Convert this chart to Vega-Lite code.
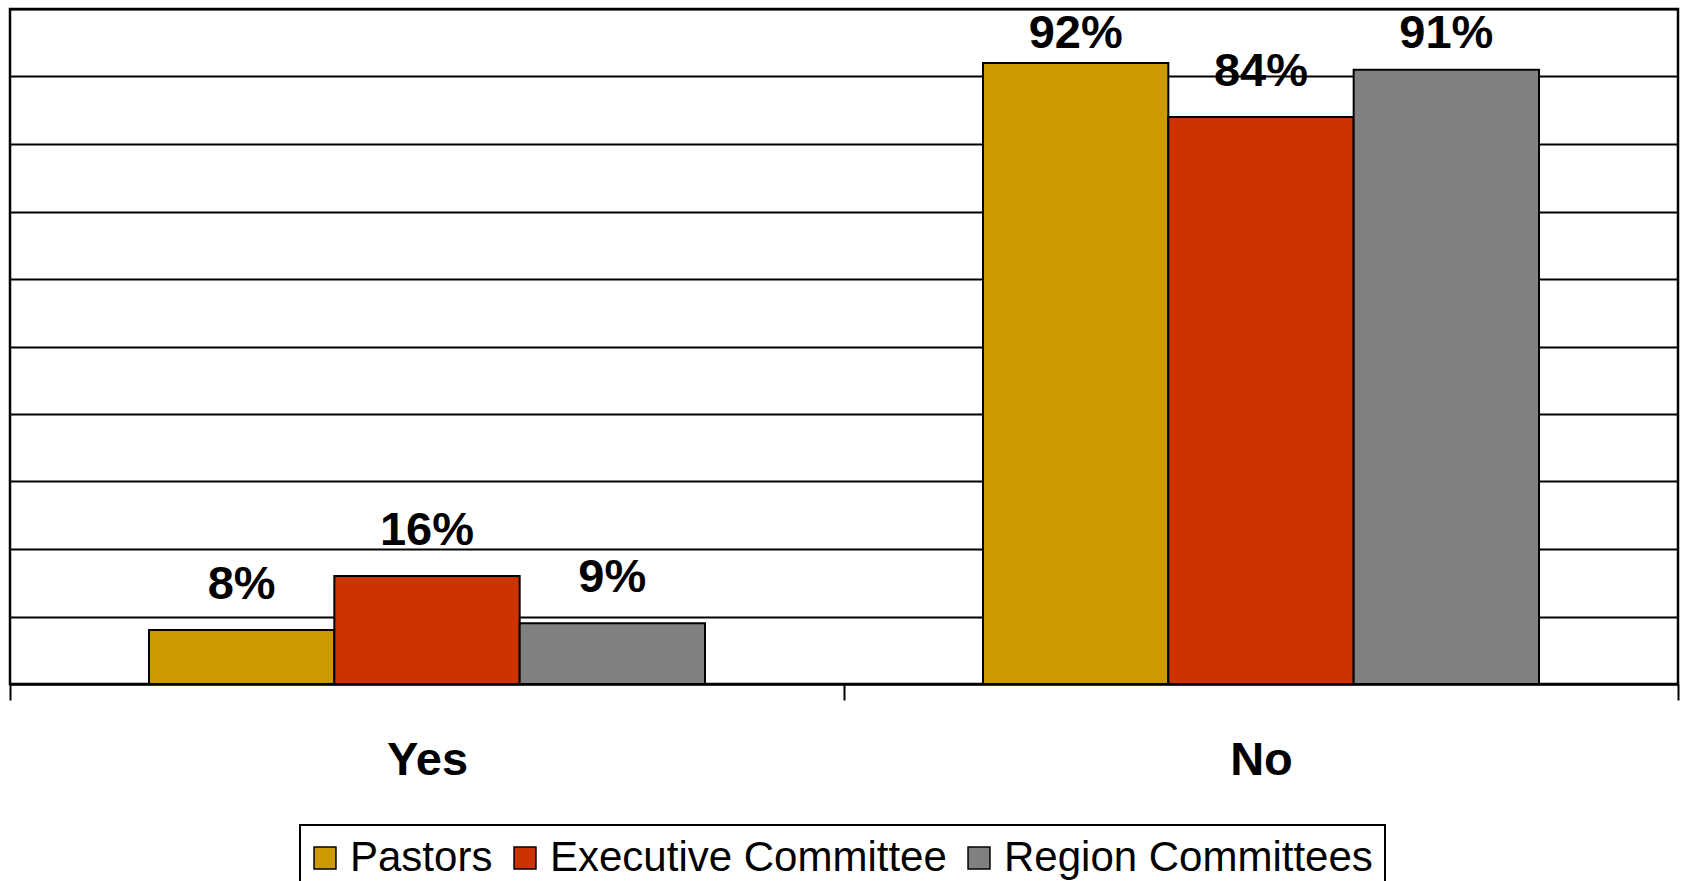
{
  "$schema": "https://vega.github.io/schema/vega-lite/v6.json",
  "width": 1668,
  "height": 675,
  "autosize": {"type": "none"},
  "padding": {"left": 10, "top": 9, "right": 3, "bottom": 197},
  "background": "white",
  "config": {
    "view": {"stroke": "black", "strokeWidth": 2.5},
    "font": "Liberation Sans",
    "legend": {"strokeWidth": 2}
  },
  "data": {
    "values": [
      {"answer": "Yes", "group": "Pastors", "value": 0.08},
      {"answer": "Yes", "group": "Executive Committee", "value": 0.16},
      {"answer": "Yes", "group": "Region Committees", "value": 0.09},
      {"answer": "No", "group": "Pastors", "value": 0.92},
      {"answer": "No", "group": "Executive Committee", "value": 0.84},
      {"answer": "No", "group": "Region Committees", "value": 0.91}
    ]
  },
  "encoding": {
    "x": {
      "field": "answer",
      "type": "nominal",
      "sort": ["Yes", "No"],
      "scale": {"paddingInner": 0, "paddingOuter": 0},
      "axis": {
        "title": null,
        "labelAngle": 0,
        "labelFont": "Liberation Sans",
        "labelFontSize": 47,
        "labelFontWeight": "bold",
        "labelColor": "black",
        "tickBand": "extent",
        "tickSize": 16,
        "tickWidth": 2,
        "tickColor": "black",
        "domainColor": "black",
        "domainWidth": 2,
        "labelPadding": 37
      }
    },
    "xOffset": {
      "field": "group",
      "type": "nominal",
      "sort": ["Pastors", "Executive Committee", "Region Committees"],
      "scale": {"paddingOuter": 0.75, "paddingInner": 0}
    }
  },
  "layer": [
    {
      "mark": {"type": "bar", "stroke": "black", "strokeWidth": 2},
      "encoding": {
        "y": {
          "field": "value",
          "type": "quantitative",
          "scale": {"domain": [0, 1]},
          "axis": {
            "title": null,
            "labels": false,
            "ticks": false,
            "domain": false,
            "grid": true,
            "gridColor": "black",
            "gridWidth": 2,
            "gridOpacity": 1,
            "values": [0, 0.1, 0.2, 0.3, 0.4, 0.5, 0.6, 0.7, 0.8, 0.9, 1]
          }
        },
        "color": {
          "field": "group",
          "type": "nominal",
          "sort": ["Pastors", "Executive Committee", "Region Committees"],
          "scale": {
            "domain": ["Pastors", "Executive Committee", "Region Committees"],
            "range": ["#CC9900", "#CC3300", "#808080"]
          },
          "legend": {
            "title": null,
            "orient": "none",
            "legendX": 290,
            "legendY": 816,
            "direction": "horizontal",
            "strokeColor": "black",
            "padding": 12,
            "symbolType": "square",
            "symbolSize": 480,
            "symbolStrokeColor": "black",
            "symbolStrokeWidth": 1.5,
            "symbolOpacity": 1,
            "symbolOffset": -8,
            "labelFont": "Liberation Sans",
            "labelFontSize": 42,
            "labelColor": "black",
            "labelLimit": 1000,
            "labelOffset": 4,
            "columnPadding": 18
          }
        }
      }
    },
    {
      "transform": [{"calculate": "min(datum.value + 0.046, 0.942)", "as": "labelPos"}],
      "mark": {
        "type": "text",
        "font": "Liberation Sans",
        "fontSize": 47,
        "fontWeight": "bold",
        "baseline": "alphabetic",
        "color": "black"
      },
      "encoding": {
        "y": {"field": "labelPos", "type": "quantitative"},
        "text": {"field": "value", "type": "quantitative", "format": ".0%"}
      }
    }
  ]
}
